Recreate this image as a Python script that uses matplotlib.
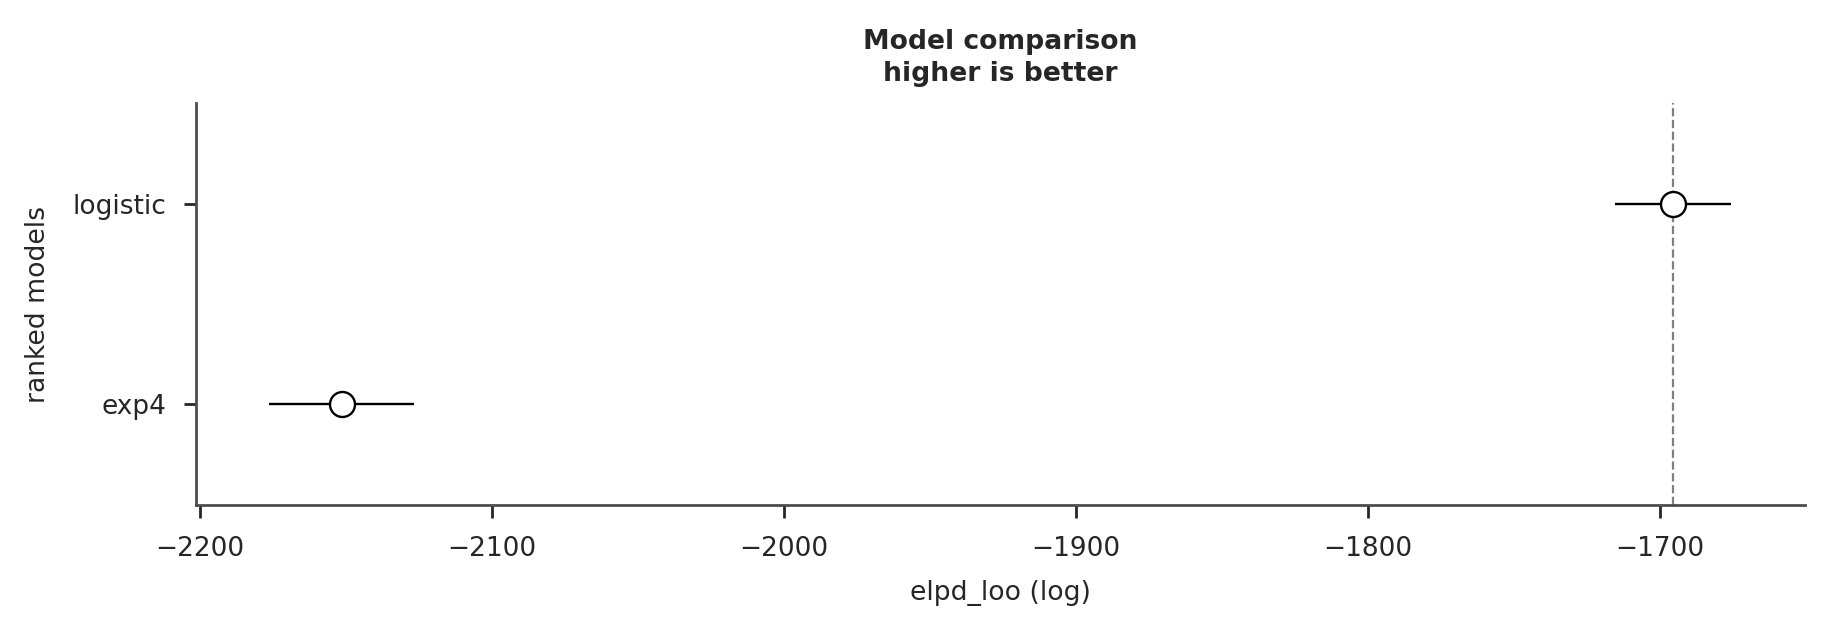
import matplotlib
matplotlib.use('Agg')
import matplotlib.pyplot as plt

# Data (elpd_loo, log scale)
models = ['exp4', 'logistic']
elpd = [-2151.5, -1695.7]
se = [24.7, 19.9]
best = -1695.7

fig = plt.figure(figsize=(9.17, 3.17), dpi=200)
ax = fig.add_axes([0.1068, 0.2035, 0.8772, 0.634])

ypos = list(range(len(models)))
ax.errorbar(elpd, ypos, xerr=se, fmt='o', color='black', ecolor='black',
            elinewidth=0.85, mfc='white', mec='black', mew=0.85, ms=9, zorder=3)
ax.axvline(best, color='grey', ls='--', lw=0.8, zorder=1)

ax.set_xlim(-2201.4, -1650.5)
ax.set_ylim(-0.5, 1.5)
ax.set_yticks(ypos)
ax.set_yticklabels(models)

ax.set_xlabel('elpd_loo (log)', fontsize=9.6, color='#262626', labelpad=6.5)
ax.set_ylabel('ranked models', fontsize=9.6, color='#262626', labelpad=8)
ax.set_title('Model comparison\nhigher is better', fontsize=9.6, fontweight='bold',
             color='#262626', pad=8, linespacing=1.27)

for side in ['top', 'right']:
    ax.spines[side].set_visible(False)
for side in ['left', 'bottom']:
    ax.spines[side].set_color('#4d4d4d')
    ax.spines[side].set_linewidth(1.0)
ax.tick_params(axis='both', labelsize=9.5, colors='#262626', length=4.5, width=1.0)
ax.tick_params(axis='x', pad=6.5)
ax.tick_params(axis='y', pad=6)

plt.savefig('out.png', dpi=200)
plt.close()
